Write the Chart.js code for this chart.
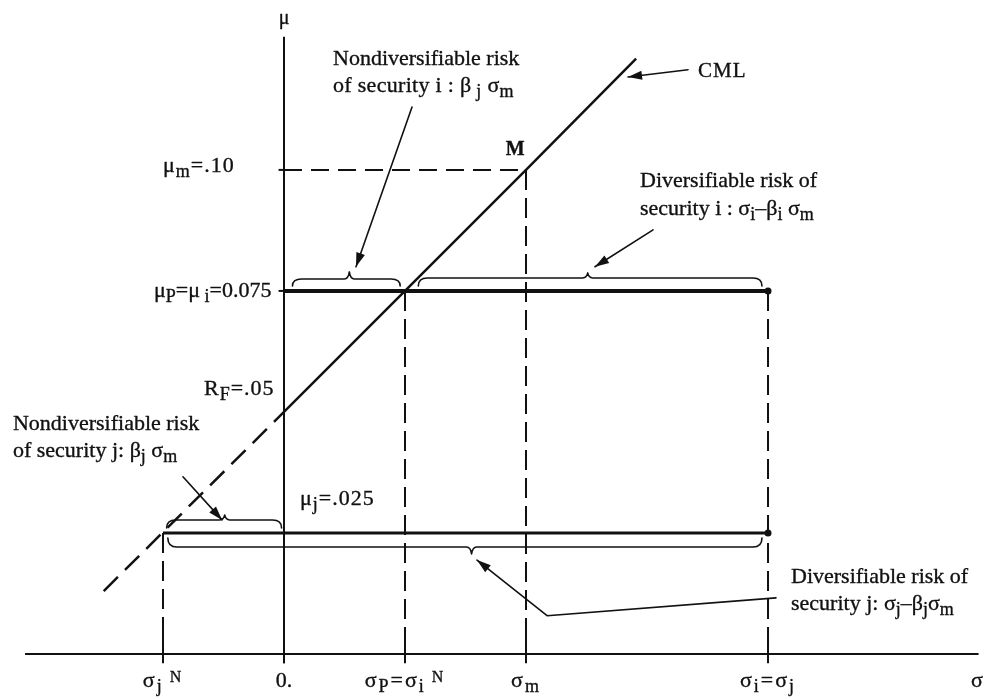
<!DOCTYPE html>
<html>
<head>
<meta charset="utf-8">
<script src="https://cdn.jsdelivr.net/npm/chart.js@4.4.1/dist/chart.umd.min.js"></script>
<style>
html,body{margin:0;padding:0;background:#fff;}
#wrap{width:992px;height:699px;}
</style>
</head>
<body>
<div id="wrap"><canvas id="c" width="992" height="699"></canvas></div>
<script>
// ---------- data ----------
const riskFree = 0.05;
const muM = 0.10;
const sigmaM = 0.20;
const muP = 0.075;          // mu_P = mu_i
const sigmaP = 0.10;        // sigma_P = sigma_i^N
const muJ = 0.025;
const sigmaJN = -0.10;      // sigma_j^N
const sigmaIJ = 0.40;       // sigma_i = sigma_j

const cmlDashedSigma = [-0.149, 0];
const cmlDashedMu    = [0.013, 0.05];
const cmlSolidSigma  = [0, 0.10, 0.20, 0.291];
const cmlSolidMu     = [0.05, 0.075, 0.10, 0.123];

const sigmaTickValues = [sigmaJN, 0, sigmaP, sigmaM, sigmaIJ];
const sigmaTickLabels = ['σ_{j}^{ N}', '0.', 'σ_{P}=σ_{i}^{ N}', 'σ_{m}', 'σ_{i}=σ_{j}'];
const muTickValues = [muM, muP];

const axisSigmaRange = [-0.214, 0.574];
const axisMuRange = [-0.0019, 0.1275];

// ---------- view ----------
const X_MIN = -0.2347, X_MAX = 0.5851;
const Y_MIN = -0.0093, Y_MAX = 0.1351;
const INK = '#111';
const FONT = '"Liberation Serif", "Times New Roman", serif';
const tickLabelSpacing = [2, 0, 2, 2, 2];

function seg(xs, ys){ return xs.map((x,i)=>({x:x, y:ys[i]})); }
function lineDS(data, w, dash){
  return {data:data, showLine:true, borderColor:INK, backgroundColor:INK, borderWidth:w,
          borderDash:dash||[], pointRadius:0, fill:false, tension:0, clip:false,
          borderCapStyle:'butt'};
}

const datasets = [];
// axes
datasets.push(lineDS(seg(axisSigmaRange,[0,0]), 2));
datasets.push(lineDS(seg([0,0],axisMuRange), 2));
// CML
datasets.push(lineDS(seg(cmlDashedSigma, cmlDashedMu), 2.5, [20,10]));
datasets.push(lineDS(seg(cmlSolidSigma, cmlSolidMu), 2.5));
// mu_m dashed horizontal
datasets.push(lineDS(seg([0, sigmaM],[muM, muM]), 2, [18,9]));
// dashed verticals
datasets.push(lineDS(seg([sigmaJN, sigmaJN],[muJ, 0]), 2, [20,8]));
datasets.push(lineDS(seg([sigmaP, sigmaP],[muP, 0]), 2, [20,8]));
datasets.push(lineDS(seg([sigmaM, sigmaM],[muM, 0]), 2, [20,8]));
datasets.push(lineDS(seg([sigmaIJ, sigmaIJ],[muP, 0]), 2, [20,8]));
// tick stubs below the sigma axis
sigmaTickValues.forEach(v => datasets.push(lineDS(seg([v,v],[0.0035, axisMuRange[0]]), 2)));
// tick stubs left of the mu axis
muTickValues.forEach(v => datasets.push(lineDS(seg([-0.0045, 0],[v, v]), 2)));
// security lines
datasets.push(lineDS(seg([0, sigmaIJ],[muP, muP]), 4));
datasets.push(lineDS(seg([sigmaJN, sigmaIJ],[muJ, muJ]), 3));
// end dots
datasets.push({data:seg([sigmaIJ, sigmaIJ],[muP, muJ]), showLine:false, pointRadius:3.5,
               pointBackgroundColor:INK, pointBorderWidth:0, clip:false});

// ---------- annotations (value coordinates, drawn through the scales) ----------
const braces = [
  // from, to, cusp, level, endOff, flatOff, tipOff (px, negative = above)
  {from:0.007,  to:0.096, cusp:0.054,  level:muP, e:-5, f:-12, t:-19},
  {from:0.111,  to:0.395, cusp:0.251,  level:muP, e:-5, f:-13, t:-18},
  {from:-0.097, to:-0.002, cusp:-0.049, level:muJ, e:-5, f:-13, t:-18},
  {from:-0.096, to:0.395, cusp:0.155,  level:muJ, e:5,  f:14,  t:21}
];
const arrows = [
  {pts:[[0.1058,0.1130],[0.0595,0.0800]]},
  {pts:[[0.3339,0.1207],[0.2843,0.1192]]},
  {pts:[[0.3050,0.0876],[0.2570,0.0800]]},
  {pts:[[-0.0835,0.0366],[-0.0512,0.0277]]},
  {pts:[[0.4066,0.0116],[0.2174,0.0079],[0.1595,0.0194]]}
];
const texts = [
  {s:'Nondiversifiable risk', x:0.0405, y:0.1217, size:22, ls:0, align:'left'},
  {s:'of security i : β_{ j} σ_{m}', x:0.0405, y:0.1161, size:22, ls:0.3, align:'left'},
  {s:'CML', x:0.3421, y:0.1192, size:21, ls:1, align:'left'},
  {s:'Diversifiable risk of', x:0.2942, y:0.0965, size:22, ls:0, align:'left'},
  {s:'security i : σ_{i}–β_{i} σ_{m}', x:0.2942, y:0.0907, size:22, ls:0, align:'left'},
  {s:'Nondiversifiable risk', x:-0.224, y:0.0463, size:22, ls:0, align:'left'},
  {s:'of security j: β_{j} σ_{m}', x:-0.224, y:0.0407, size:22, ls:0, align:'left'},
  {s:'μ_{j}=.025', x:0.0132, y:0.0308, size:22, ls:1, align:'left'},
  {s:'Diversifiable risk of', x:0.419, y:0.0147, size:22, ls:0, align:'left'},
  {s:'security j: σ_{j}–β_{j}σ_{m}', x:0.419, y:0.0091, size:22, ls:0, align:'left'},
  {s:'M', x:0.191, y:0.1031, size:20, ls:0, align:'center', bold:true},
  {s:'μ_{m}=.10', x:-0.100, y:0.0996, size:22, ls:1, align:'left'},
  {s:'μ_{P}=μ_{ i}=0.075', x:-0.1074, y:0.0738, size:22, ls:0, align:'left'},
  {s:'R_{F}=.05', x:-0.0661, y:0.0535, size:22, ls:1, align:'left'},
  {s:'μ', x:0, y:0.1302, size:20, ls:0, align:'center'},
  {s:'σ', x:0.5727, y:-0.0068, size:22, ls:0, align:'center'}
];
const tickLabelMu = -0.0068;

function parseRich(s){
  const out=[]; let buf=''; let i=0;
  while(i<s.length){
    const c=s[i];
    if((c==='_'||c==='^') && s[i+1]==='{'){
      if(buf){out.push({t:buf,k:0});buf='';}
      const j=s.indexOf('}',i);
      out.push({t:s.slice(i+2,j),k:c==='_'?1:2});
      i=j+1;
    } else {buf+=c;i++;}
  }
  if(buf) out.push({t:buf,k:0});
  return out;
}
function drawRich(ctx, s, x, y, size, align, bold, ls){
  const segs=parseRich(s);
  const fw = bold ? 'bold ' : '';
  if ('letterSpacing' in ctx) ctx.letterSpacing = (ls||0) + 'px';
  const fonts = segs.map(g => fw + (g.k===0? size : Math.round(size*(g.k===1?0.84:0.72))) + 'px ' + FONT);
  let w=0; const ws=[];
  segs.forEach((g,i)=>{ctx.font=fonts[i]; const m=ctx.measureText(g.t).width; ws.push(m); w+=m;});
  let cx = align==='center' ? x - w/2 : (align==='right' ? x - w : x);
  segs.forEach((g,i)=>{
    ctx.font=fonts[i];
    const dy = g.k===1 ? size*0.24 : (g.k===2 ? -size*0.2 : 0);
    ctx.fillText(g.t, cx, y+dy);
    ctx.strokeText(g.t, cx, y+dy);
    cx+=ws[i];
  });
  if ('letterSpacing' in ctx) ctx.letterSpacing = '0px';
}

const annotPlugin = {
  id:'annot',
  afterDatasetsDraw(chart){
    const ctx=chart.ctx, xs=chart.scales.x, ys=chart.scales.y;
    const X=v=>xs.getPixelForValue(v), Y=v=>ys.getPixelForValue(v);
    ctx.save();
    ctx.strokeStyle=INK; ctx.fillStyle=INK; ctx.lineJoin='round'; ctx.lineCap='round';
    // braces
    ctx.lineWidth=1.6;
    braces.forEach(b=>{
      const x1=X(b.from), x2=X(b.to), xc=X(b.cusp), yl=Y(b.level);
      const ye=yl+b.e, yf=yl+b.f, yt=yl+b.t, r=9, c=5;
      ctx.beginPath();
      ctx.moveTo(x1,ye);
      ctx.quadraticCurveTo(x1,yf,x1+r,yf);
      ctx.lineTo(xc-c,yf);
      ctx.quadraticCurveTo(xc-1,yf,xc,yt);
      ctx.quadraticCurveTo(xc+1,yf,xc+c,yf);
      ctx.lineTo(x2-r,yf);
      ctx.quadraticCurveTo(x2,yf,x2,ye);
      ctx.stroke();
    });
    // arrows
    ctx.lineWidth=1.6;
    arrows.forEach(a=>{
      const p=a.pts.map(q=>[X(q[0]),Y(q[1])]);
      ctx.beginPath(); ctx.moveTo(p[0][0],p[0][1]);
      for(let i=1;i<p.length;i++) ctx.lineTo(p[i][0],p[i][1]);
      ctx.stroke();
      const n=p.length, tip=p[n-1], prev=p[n-2];
      const ang=Math.atan2(tip[1]-prev[1], tip[0]-prev[0]);
      const L=14, H=4.5;
      ctx.beginPath();
      ctx.moveTo(tip[0],tip[1]);
      ctx.lineTo(tip[0]-L*Math.cos(ang)+H*Math.sin(ang), tip[1]-L*Math.sin(ang)-H*Math.cos(ang));
      ctx.lineTo(tip[0]-L*Math.cos(ang)-H*Math.sin(ang), tip[1]-L*Math.sin(ang)+H*Math.cos(ang));
      ctx.closePath(); ctx.fill();
    });
    // texts
    ctx.textBaseline='alphabetic';
    ctx.lineWidth=0.35;
    texts.forEach(t=>drawRich(ctx,t.s,X(t.x),Y(t.y),t.size,t.align,t.bold,t.ls));
    sigmaTickValues.forEach((v,i)=>drawRich(ctx,sigmaTickLabels[i],X(v),Y(tickLabelMu),22,'center',false,tickLabelSpacing[i]));
    ctx.restore();
  }
};

new Chart(document.getElementById('c'), {
  type:'scatter',
  data:{datasets:datasets},
  options:{
    responsive:false, animation:false, events:[],
    layout:{padding:0, autoPadding:false},
    plugins:{legend:{display:false}, tooltip:{enabled:false}},
    scales:{
      x:{type:'linear', min:X_MIN, max:X_MAX, display:false},
      y:{type:'linear', min:Y_MIN, max:Y_MAX, display:false}
    }
  },
  plugins:[annotPlugin]
});
</script>
</body>
</html>
